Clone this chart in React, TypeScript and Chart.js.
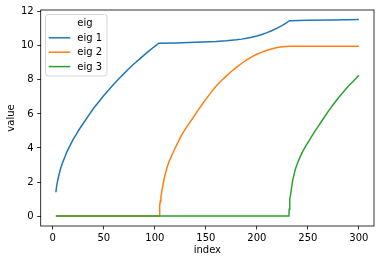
import React, { useEffect, useRef } from "react";
import { Chart, registerables } from "chart.js";

Chart.register(...registerables);

const seriesNames = ["eig 1", "eig 2", "eig 3"];
const seriesColors = ["#1f77b4", "#ff7f0e", "#2ca02c"];
const legendTitle = "eig";

const eig1X = [3, 4, 5, 6, 7, 8, 10, 12, 14, 17, 20, 23, 26, 30, 35, 40, 45, 50, 55, 60, 65, 70, 75, 80, 85, 90, 95, 100, 104, 120, 140, 160, 170, 180, 185, 190, 195, 200, 205, 210, 215, 220, 225, 229, 232, 250, 275, 300];
const eig1Y = [1.4, 1.85, 2.15, 2.4, 2.65, 2.85, 3.2, 3.5, 3.8, 4.15, 4.5, 4.8, 5.1, 5.45, 5.9, 6.33, 6.7, 7.08, 7.42, 7.76, 8.08, 8.38, 8.68, 8.96, 9.22, 9.48, 9.73, 9.97, 10.15, 10.17, 10.2, 10.25, 10.29, 10.35, 10.39, 10.44, 10.5, 10.57, 10.66, 10.77, 10.9, 11.04, 11.2, 11.35, 11.47, 11.5, 11.52, 11.54];

const eig2X = [3, 50, 104.3, 104.6, 105, 105.5, 106, 107, 108, 109, 110, 112, 114, 117, 120, 123, 126, 130, 134, 138, 142, 146, 150, 155, 160, 165, 170, 175, 180, 185, 190, 195, 200, 205, 210, 215, 220, 225, 232, 260, 300];
const eig2Y = [0, 0, 0, 0.4, 0.65, 0.9, 1.15, 1.5, 1.85, 2.15, 2.42, 2.85, 3.2, 3.62, 4.0, 4.37, 4.72, 5.12, 5.47, 5.82, 6.18, 6.52, 6.85, 7.25, 7.62, 7.93, 8.22, 8.49, 8.73, 8.96, 9.17, 9.35, 9.5, 9.63, 9.74, 9.83, 9.9, 9.94, 9.97, 9.97, 9.97];

const eig3X = [3, 100, 200, 231.5, 231.7, 232, 232.5, 233, 234, 235, 236, 238, 240, 242, 245, 248, 252, 256, 260, 265, 270, 275, 280, 285, 290, 295, 300];
const eig3Y = [0, 0, 0, 0, 0.4, 0.75, 1.0, 1.2, 1.65, 2.05, 2.32, 2.8, 3.13, 3.42, 3.8, 4.13, 4.5, 4.9, 5.25, 5.7, 6.15, 6.55, 6.95, 7.3, 7.65, 7.95, 8.27];

const xTicks = [0, 50, 100, 150, 200, 250, 300];
const yTicks = [0, 2, 4, 6, 8, 10, 12];
const xLabel = "index";
const yLabel = "value";

const FONT = "'DejaVu Sans', sans-serif";

const framePlugin = {
  id: "frameAndLegend",
  afterDatasetsDraw(chart: any) {
    const ctx = chart.ctx;
    const a = chart.chartArea;
    ctx.save();
    ctx.strokeStyle = "#000";
    ctx.lineWidth = 0.8;
    ctx.strokeRect(a.left, a.top, a.right - a.left, a.bottom - a.top);

    // legend box
    const bx = 45.5, by = 14.5, bw = 61.5, bh = 61.5, r = 2.5;
    ctx.beginPath();
    ctx.moveTo(bx + r, by);
    ctx.lineTo(bx + bw - r, by);
    ctx.arcTo(bx + bw, by, bx + bw, by + r, r);
    ctx.lineTo(bx + bw, by + bh - r);
    ctx.arcTo(bx + bw, by + bh, bx + bw - r, by + bh, r);
    ctx.lineTo(bx + r, by + bh);
    ctx.arcTo(bx, by + bh, bx, by + bh - r, r);
    ctx.lineTo(bx, by + r);
    ctx.arcTo(bx, by, bx + r, by, r);
    ctx.closePath();
    ctx.fillStyle = "rgba(255,255,255,0.8)";
    ctx.fill();
    ctx.strokeStyle = "rgba(204,204,204,0.8)";
    ctx.lineWidth = 1;
    ctx.stroke();

    ctx.font = "10px " + FONT;
    ctx.fillStyle = "#000";
    ctx.textBaseline = "middle";
    ctx.textAlign = "left";
    ctx.fillText(legendTitle, 77.3, 23.3);
    chart.data.datasets.forEach((ds: any, i: number) => {
      const y = 37.8 + i * 14.4;
      ctx.strokeStyle = ds.borderColor;
      ctx.lineWidth = 1.5;
      ctx.beginPath();
      ctx.moveTo(48.7, y);
      ctx.lineTo(70.3, y);
      ctx.stroke();
      ctx.fillStyle = "#000";
      ctx.fillText(ds.label, 77.3, y + 0.5);
    });
    ctx.restore();
  },
};

function makePoints(xs: number[], ys: number[]) {
  return xs.map((x, i) => ({ x, y: ys[i] }));
}

export default function App() {
  const ref = useRef<HTMLCanvasElement | null>(null);
  useEffect(() => {
    document.body.style.margin = "0";
    const canvas = ref.current!;
    const xs = [eig1X, eig2X, eig3X];
    const ys = [eig1Y, eig2Y, eig3Y];
    const chart = new Chart(canvas, {
      type: "line",
      data: {
        datasets: seriesNames.map((name, i) => ({
          label: name,
          data: makePoints(xs[i], ys[i]),
          borderColor: seriesColors[i],
          backgroundColor: seriesColors[i],
          borderWidth: 1.5,
          pointRadius: 0,
          tension: 0,
          fill: false,
          order: 3 - i,
        })),
      },
      options: {
        responsive: false,
        animation: false,
        events: [],
        layout: { padding: { left: 0, right: 8, top: 10, bottom: 0 } },
        plugins: { legend: { display: false }, tooltip: { enabled: false } },
        scales: {
          x: {
            type: "linear",
            min: -11.85,
            max: 314.85,
            afterBuildTicks: (s: any) => {
              s.ticks = xTicks.map((v) => ({ value: v }));
            },
            afterFit: (s: any) => {
              s.height = 38;
            },
            grid: { drawOnChartArea: false, drawTicks: true, tickLength: 3.5, color: "#000", lineWidth: 0.8 },
            border: { display: false },
            ticks: { font: { family: FONT, size: 10 }, color: "#000", padding: 3, maxRotation: 0, autoSkip: false },
            title: { display: true, text: xLabel, font: { family: FONT, size: 10 }, color: "#000", padding: { top: 0, bottom: 7.3 } },
          },
          y: {
            type: "linear",
            min: -0.58,
            max: 12.1,
            afterBuildTicks: (s: any) => {
              s.ticks = yTicks.map((v) => ({ value: v }));
            },
            afterFit: (s: any) => {
              s.width = 40.7;
            },
            grid: { drawOnChartArea: false, drawTicks: true, tickLength: 3.5, color: "#000", lineWidth: 0.8 },
            border: { display: false },
            ticks: { font: { family: FONT, size: 10 }, color: "#000", padding: 3.5, autoSkip: false },
            title: { display: true, text: yLabel, font: { family: FONT, size: 10 }, color: "#000", padding: { top: 5.7, bottom: 0 } },
          },
        },
      },
      plugins: [framePlugin],
    });
    return () => chart.destroy();
  }, []);
  return (
    <div style={{ width: 382, height: 264 }}>
      <canvas ref={ref} width={382} height={264} style={{ display: "block" }} />
    </div>
  );
}
